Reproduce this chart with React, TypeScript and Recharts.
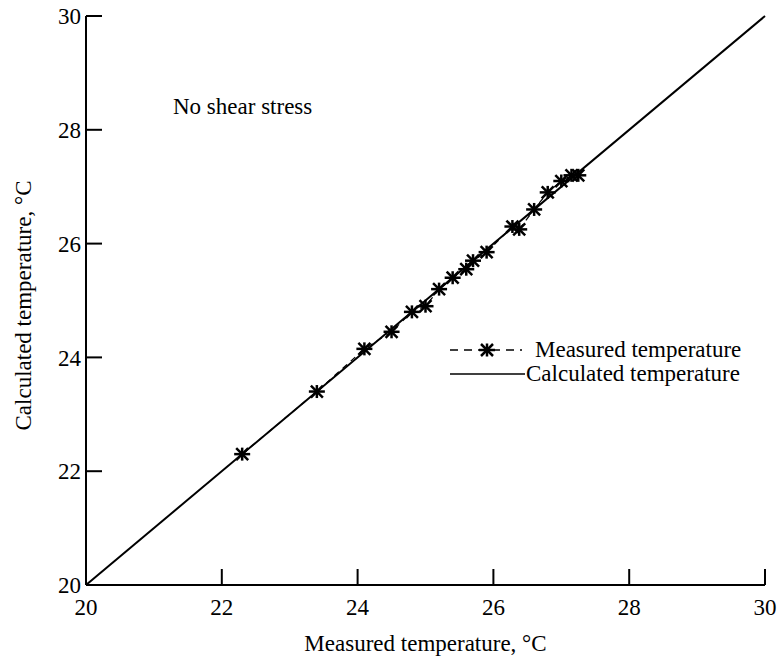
import { ComposedChart, Customized, Legend, Line, Scatter, XAxis, YAxis } from 'recharts';

// measured points
const measuredX = [22.3, 23.4, 24.1, 24.5, 24.8, 25.0, 25.2, 25.4, 25.6, 25.7, 25.9, 26.28, 26.38, 26.6, 26.8, 27.0, 27.15, 27.25];
const measuredY = [22.3, 23.4, 24.15, 24.45, 24.8, 24.9, 25.2, 25.4, 25.55, 25.7, 25.85, 26.3, 26.25, 26.6, 26.9, 27.1, 27.2, 27.2];

// calculated line
const calculatedX = [20, 30];
const calculatedY = [20, 30];

const xTicks = [20, 22, 24, 26, 28, 30];
const yTicks = [20, 22, 24, 26, 28, 30];

const FONT = '"Liberation Serif", "DejaVu Serif", serif';
const INK = '#000';

const measured = measuredX.map((x, i) => ({ x, y: measuredY[i] }));
const calculated = calculatedX.map((x, i) => ({ x, y: calculatedY[i] }));

function Star({ cx, cy }: { cx?: number; cy?: number }) {
  if (cx == null || cy == null) return null;
  return (
    <g stroke={INK} strokeWidth={2.5} strokeLinecap="butt">
      <line x1={cx - 8} y1={cy} x2={cx + 8} y2={cy} />
      <line x1={cx} y1={cy - 6.5} x2={cx} y2={cy + 6.5} />
      <line x1={cx - 6} y1={cy - 6} x2={cx + 6} y2={cy + 6} />
      <line x1={cx - 6} y1={cy + 6} x2={cx + 6} y2={cy - 6} />
    </g>
  );
}

function LegendBox() {
  return (
    <svg width={320} height={52} style={{ overflow: 'visible' }}>
      <line x1={5} y1={12} x2={77} y2={12} stroke={INK} strokeWidth={1.6} strokeDasharray="8 6" />
      <Star cx={42} cy={12} />
      <text x={90} y={19} fontFamily={FONT} fontSize={23} fill={INK}>Measured temperature</text>
      <line x1={5} y1={36} x2={80} y2={36} stroke={INK} strokeWidth={1.6} />
      <text x={81} y={43} fontFamily={FONT} fontSize={23} fill={INK}>Calculated temperature</text>
    </svg>
  );
}

const tickStyle = { fill: INK, fontSize: 23, fontFamily: FONT };

export default function App() {
  return (
    <div style={{ position: 'absolute', left: 0, top: 0, background: '#fff', fontFamily: FONT }}>
      <ComposedChart width={781} height={661} margin={{ top: 16, right: 16, left: 0, bottom: 0 }}>
        <XAxis
          type="number"
          dataKey="x"
          domain={[20, 30]}
          ticks={xTicks}
          interval={0}
          height={76}
          tickSize={-16}
          tickMargin={30}
          tick={tickStyle}
          axisLine={{ stroke: INK, strokeWidth: 2 }}
          tickLine={{ stroke: INK, strokeWidth: 2 }}
          label={{
            value: 'Measured temperature, °C',
            position: 'insideBottom',
            offset: 10,
            style: { fill: INK, fontSize: 23, fontFamily: FONT },
          }}
        />
        <YAxis
          type="number"
          dataKey="y"
          domain={[20, 30]}
          ticks={yTicks}
          interval={0}
          width={86}
          tickSize={-16}
          tickMargin={21}
          tick={tickStyle}
          axisLine={{ stroke: INK, strokeWidth: 2 }}
          tickLine={{ stroke: INK, strokeWidth: 2 }}
          label={{
            value: 'Calculated temperature, °C',
            angle: -90,
            position: 'insideLeft',
            offset: 23,
            dy: 5,
            style: { fill: INK, fontSize: 23, fontFamily: FONT, textAnchor: 'middle' },
          }}
        />
        <Line
          data={calculated}
          dataKey="y"
          type="linear"
          stroke={INK}
          strokeWidth={2}
          dot={false}
          legendType="none"
          isAnimationActive={false}
        />
        <Scatter
          data={measured}
          dataKey="y"
          shape={Star}
          line={{ stroke: INK, strokeWidth: 1.2, strokeDasharray: '6 5' }}
          isAnimationActive={false}
        />
        <Legend
          layout="vertical"
          align="center"
          verticalAlign="middle"
          content={LegendBox}
          wrapperStyle={{ left: 445, top: 338, width: 320, height: 52 }}
        />
        <Customized
          component={() => (
            <text x={173} y={114} fontFamily={FONT} fontSize={23} fill={INK}>
              No shear stress
            </text>
          )}
        />
      </ComposedChart>
    </div>
  );
}
